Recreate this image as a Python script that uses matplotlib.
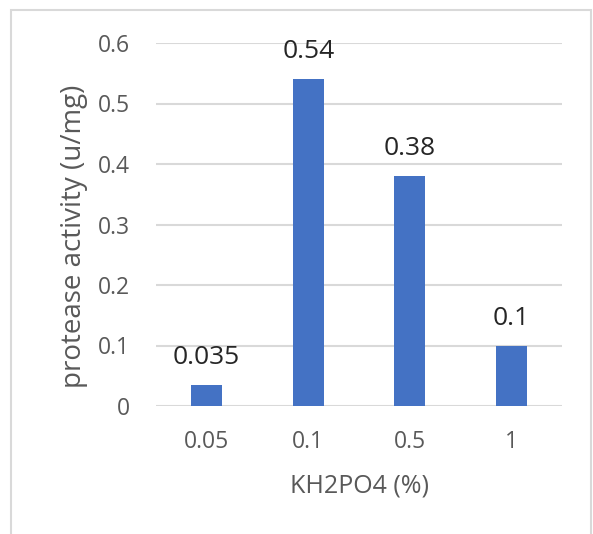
import matplotlib.pyplot as plt
from matplotlib.patches import Rectangle

categories = ["0.05", "0.1", "0.5", "1"]
activity = [0.035, 0.54, 0.38, 0.1]
labels = ["0.035", "0.54", "0.38", "0.1"]
y_ticks = [0, 0.1, 0.2, 0.3, 0.4, 0.5, 0.6]
y_tick_labels = ["0", "0.1", "0.2", "0.3", "0.4", "0.5", "0.6"]

plt.rcParams["font.family"] = ["Open Sans", "DejaVu Sans"]

W, H = 593, 534
fig = plt.figure(figsize=(W / 100, H / 100), dpi=100)

# light outer chart frame (runs off the bottom of the image)
fig.patches.append(Rectangle((10.5 / W, -0.1), (591 - 10.5) / W, 1.1 - 10.5 / H,
                             transform=fig.transFigure, fill=False,
                             edgecolor="#d9d9d9", linewidth=1.5))

ax = fig.add_axes([156 / W, 1 - 406 / H, (562 - 156) / W, (406 - 43) / H])
x = range(len(categories))
ax.bar(x, activity, width=0.31, color="#4472c4", zorder=3)

for i, (v, t) in enumerate(zip(activity, labels)):
    ax.annotate(t, (i, v), xytext=(0, 15), textcoords="offset points",
                ha="center", va="baseline", fontsize=19, color="#262626")

ax.set_xlim(-0.5, len(categories) - 0.5)
ax.set_ylim(0, 0.6)
ax.set_yticks(y_ticks)
ax.set_yticklabels(y_tick_labels)
ax.set_xticks(list(x))
ax.set_xticklabels(categories)
ax.tick_params(axis="both", length=0, labelsize=16.5, colors="#595959")
ax.tick_params(axis="y", pad=19)
ax.tick_params(axis="x", pad=17)
ax.grid(axis="y", color="#d9d9d9", linewidth=1.5, zorder=0)
for s in ax.spines.values():
    s.set_visible(False)

fig.text(360 / W, 1 - 486 / H, "KH2PO4 (%)", fontsize=18, color="#595959",
         ha="center", va="center")
fig.text(74 / W, 1 - 236 / H, "protease activity (u/mg)", fontsize=20,
         color="#595959", ha="center", va="center", rotation=90)

fig.savefig("out.png", dpi=100)
